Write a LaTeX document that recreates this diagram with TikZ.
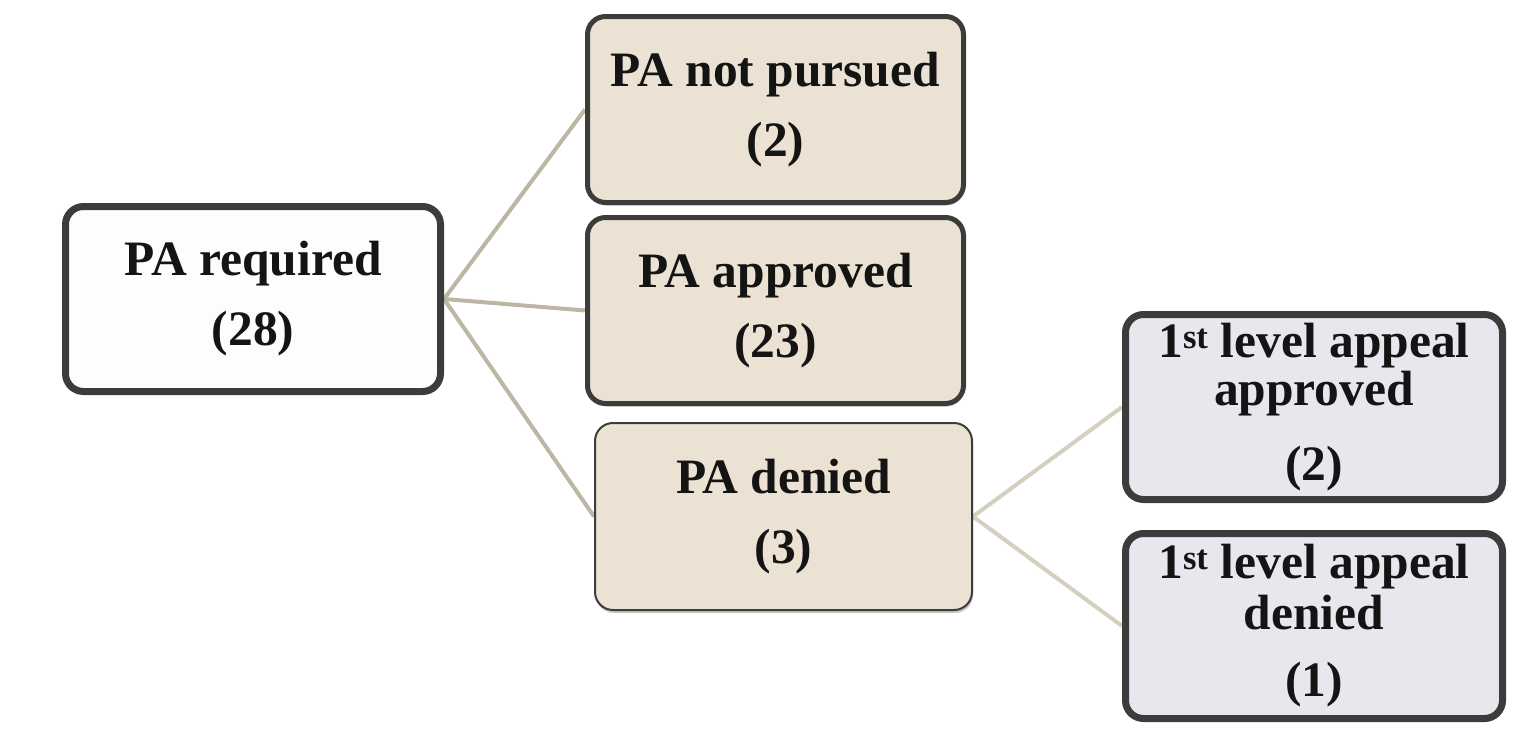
\documentclass[tikz,border=0pt]{standalone}
\usepackage{fontspec}
\setmainfont{Liberation Serif}
\usetikzlibrary{backgrounds,shadows}
\definecolor{bordc}{HTML}{3C3C3C}
\definecolor{tanfill}{HTML}{EBE2D3}
\definecolor{bluefill}{HTML}{E7E7EE}
\definecolor{whitefill}{HTML}{FDFDFB}
\definecolor{linkA}{HTML}{BDB6A4}
\definecolor{linkB}{HTML}{D4CFBF}
\tikzset{
  box/.style={draw=bordc, rounded corners=18pt, align=center, inner sep=0pt,
    font=\fontsize{49.5}{70}\selectfont\bfseries, text=black!92,
    drop shadow={shadow xshift=1pt, shadow yshift=-3pt, opacity=0.22, fill=black}},
  link/.style={line width=4pt, linkA},
  linkb/.style={line width=4pt, linkB}
}
\begin{document}
\begin{tikzpicture}[x=1pt,y=-1pt]
\useasboundingbox (0,0) rectangle (1520,728);
\node[box, fill=whitefill, line width=7pt, minimum width=375pt, minimum height=185pt] (req) at (253,299) {PA required\\(28)};
\node[box, fill=tanfill, line width=5pt, minimum width=376pt, minimum height=186pt] (notp) at (775.5,109.5) {PA not pursued\\(2)};
\node[box, fill=tanfill, line width=5pt, minimum width=376pt, minimum height=186pt] (appr) at (775.5,310.5) {PA approved\\(23)};
\node[box, fill=tanfill, line width=2pt, minimum width=377pt, minimum height=187pt] (den) at (783.5,516.5) {PA denied\\(3)};
\node[box, fill=bluefill, line width=7pt, minimum width=377pt, minimum height=185pt] (aap) at (1314,407) {1\textsuperscript{st} level appeal\\[-22pt]approved\\[5pt](2)};
\node[box, fill=bluefill, line width=7pt, minimum width=377pt, minimum height=185pt] (aden) at (1314,626) {1\textsuperscript{st} level appeal\\[-19pt]denied\\[-3pt](1)};
\begin{scope}[on background layer]
\draw[link] (req.east) -- (notp.west);
\draw[link] (req.east) -- (appr.west);
\draw[link] (req.east) -- (den.west);
\draw[linkb] (den.east) -- (aap.west);
\draw[linkb] (den.east) -- (aden.west);
\end{scope}
\end{tikzpicture}
\end{document}
